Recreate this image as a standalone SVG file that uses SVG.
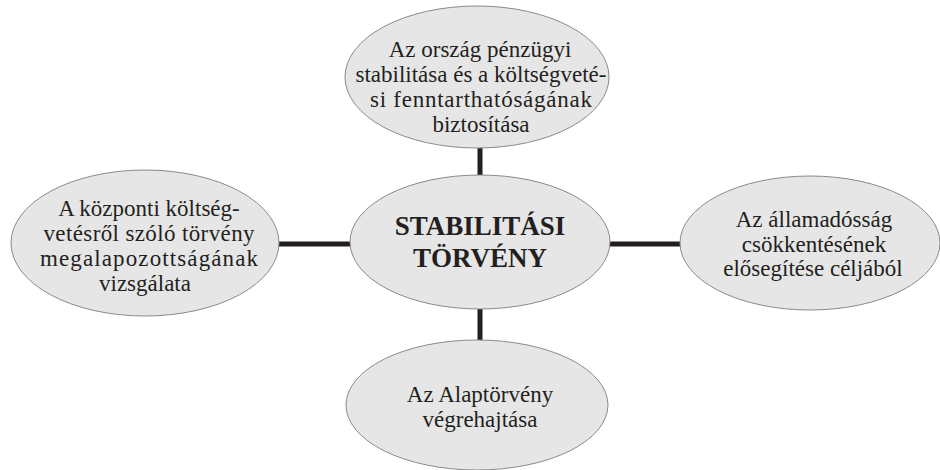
<svg xmlns="http://www.w3.org/2000/svg" width="940" height="470" viewBox="0 0 940 470" font-family="Liberation Serif, Times New Roman, serif">
<style>
.node ellipse{fill:#e6e6e6;stroke:#8a8a8a;stroke-width:1}
.node text{fill:#231f20;text-anchor:middle;font-size:23px}
.node text.b{font-weight:bold;font-size:27px}
.conn line{stroke:#231f20;stroke-width:5}
</style>
<rect width="940" height="470" fill="#ffffff"/>
<g id="connectors" class="conn">
<line x1="480" y1="145" x2="480" y2="178"/>
<line x1="480" y1="305" x2="480" y2="342"/>
<line x1="276" y1="244" x2="352" y2="244"/>
<line x1="606" y1="244" x2="682" y2="244"/>
</g>
<g id="center" class="node">
<ellipse cx="480" cy="242" rx="130" ry="67"/>
<text class="b" x="480" y="235">STABILITÁSI</text>
<text class="b" x="480" y="267">TÖRVÉNY</text>
</g>
<g id="top" class="node">
<ellipse cx="477" cy="77" rx="132" ry="71"/>
<text x="480" y="57">Az ország pénzügyi</text>
<text x="481" y="82">stabilitása és a költségveté-</text>
<text x="481" y="107" textLength="222" lengthAdjust="spacing">si fenntarthatóságának</text>
<text x="481" y="132">biztosítása</text>
</g>
<g id="left" class="node">
<ellipse cx="145" cy="243" rx="134" ry="73"/>
<text x="149" y="216">A központi költség-</text>
<text x="149" y="241" textLength="211" lengthAdjust="spacing">vetésről szóló törvény</text>
<text x="149" y="266" textLength="218" lengthAdjust="spacing">megalapozottságának</text>
<text x="145" y="291">vizsgálata</text>
</g>
<g id="right" class="node">
<ellipse cx="810" cy="243" rx="130" ry="67"/>
<text x="814" y="227">Az államadósság</text>
<text x="814" y="252">csökkentésének</text>
<text x="813" y="276">elősegítése céljából</text>
</g>
<g id="bottom" class="node">
<ellipse cx="477" cy="405" rx="131" ry="65"/>
<text x="480" y="402">Az Alaptörvény</text>
<text x="480" y="427">végrehajtása</text>
</g>
</svg>
